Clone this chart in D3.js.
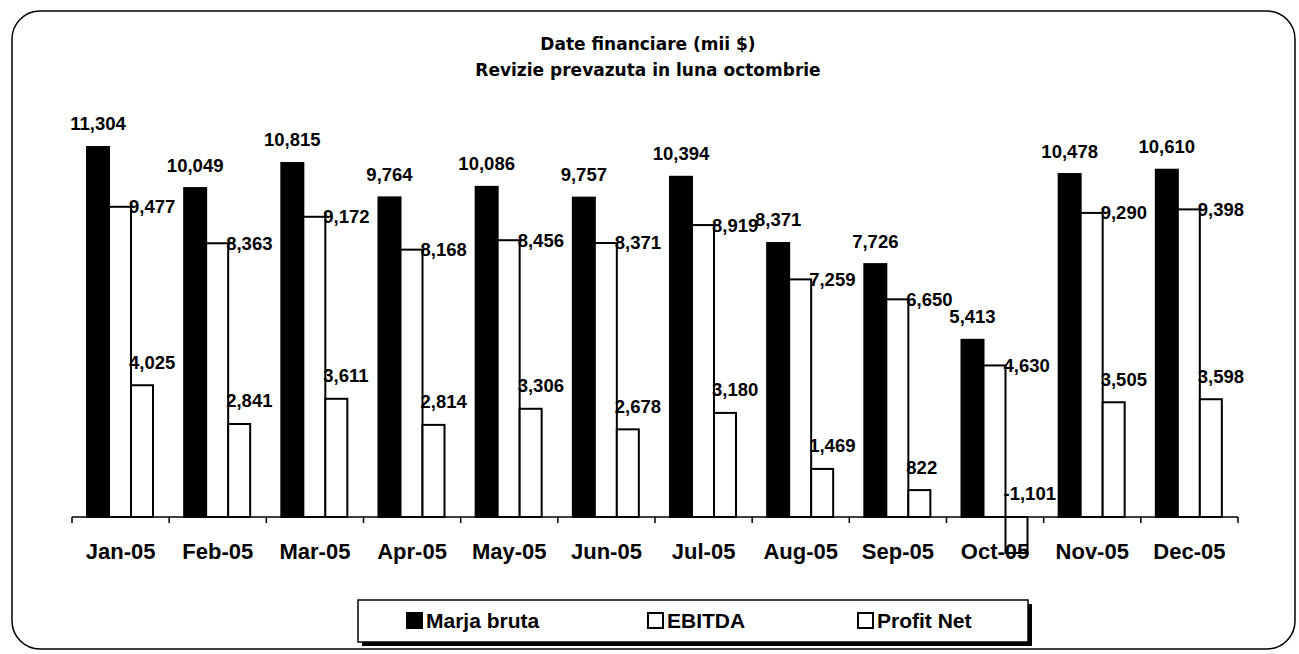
<!DOCTYPE html>
<html>
<head>
<meta charset="utf-8">
<script src="https://cdn.jsdelivr.net/npm/d3@7"></script>
<style>
  body { margin: 0; background: #fff; }
  text { font-family: "Liberation Sans", Arial, sans-serif; font-weight: bold; fill: #000; }
  text.title { font-family: "DejaVu Sans", Verdana, sans-serif; }
</style>
</head>
<body>
<div id="chart"></div>
<script>
// data
var months = ["Jan-05","Feb-05","Mar-05","Apr-05","May-05","Jun-05","Jul-05","Aug-05","Sep-05","Oct-05","Nov-05","Dec-05"];
var marjaBruta = [11304, 10049, 10815, 9764, 10086, 9757, 10394, 8371, 7726, 5413, 10478, 10610];
var ebitda     = [9477, 8363, 9172, 8168, 8456, 8371, 8919, 7259, 6650, 4630, 9290, 9398];
var profitNet  = [4025, 2841, 3611, 2814, 3306, 2678, 3180, 1469, 822, -1101, 3505, 3598];
var seriesNames = ["Marja bruta", "EBITDA", "Profit Net"];
var titleLines = ["Date financiare (mii $)", "Revizie prevazuta in luna octombrie"];

var W = 1299, H = 654;
var fmt = d3.formatLocale({decimal: ".", thousands: ",", grouping: [3], currency: ["$", ""], minus: "-"}).format(",");

var svg = d3.select("#chart").append("svg")
    .attr("width", W)
    .attr("height", H);

// outer rounded frame
svg.append("rect")
    .attr("x", 12).attr("y", 11)
    .attr("width", 1283).attr("height", 638)
    .attr("rx", 28).attr("ry", 28)
    .attr("fill", "#fff")
    .attr("stroke", "#000")
    .attr("stroke-width", 1.5);

// title
svg.selectAll(".title")
  .data(titleLines)
  .enter().append("text")
    .attr("class", "title")
    .attr("x", 648)
    .attr("y", function(d, i) { return 50 + i * 26; })
    .attr("text-anchor", "middle")
    .style("font-size", "17px")
    .text(function(d) { return d; });

var x = d3.scaleBand()
  .domain(months)
  .range([72, 1238])
  .padding(0);

var y = d3.scaleLinear()
  .domain([0, 11304])
  .range([517, 147]);

var barW = 22, barOff = 15;

var rows = months.map(function(m, i) {
  return {month: m, vals: [marjaBruta[i], ebitda[i], profitNet[i]]};
});

var groups = svg.selectAll(".grp")
  .data(rows)
  .enter().append("g")
    .attr("class", "grp")
    .attr("transform", function(d) { return "translate(" + x(d.month) + ",0)"; });

// bars
groups.selectAll("rect")
  .data(function(d) { return d.vals.map(function(v, k) { return {v: v, k: k}; }); })
  .enter().append("rect")
    .attr("x", function(d) { return barOff + d.k * barW; })
    .attr("y", function(d) { return y(Math.max(0, d.v)); })
    .attr("width", barW)
    .attr("height", function(d) { return Math.abs(y(d.v) - y(0)); })
    .attr("fill", function(d) { return d.k === 0 ? "#000" : "#fff"; })
    .attr("stroke", "#000")
    .attr("stroke-width", 2);

// value labels
groups.selectAll(".lbl")
  .data(function(d) { return d.vals.map(function(v, k) { return {v: v, k: k}; }); })
  .enter().append("text")
    .attr("class", "lbl")
    .style("font-size", "18.5px")
    .attr("text-anchor", function(d) { return d.k === 0 ? "middle" : "start"; })
    .attr("dy", "0.35em")
    .attr("x", function(d) {
      if (d.k === 0) return barOff + barW / 2;
      return barOff + 2 * barW - 2;
    })
    .attr("y", function(d) {
      var top = y(Math.max(0, d.v));
      if (d.k === 1) return top;
      return top - 23;
    })
    .text(function(d) { return fmt(d.v); });

// x axis
svg.append("line")
    .attr("x1", 72).attr("x2", 1238)
    .attr("y1", y(0)).attr("y2", y(0))
    .attr("stroke", "#000").attr("stroke-width", 1.5);

var bounds = months.map(function(m) { return x(m); }).concat([x.range()[1]]);
svg.selectAll(".tick")
  .data(bounds)
  .enter().append("line")
    .attr("x1", function(d) { return d; })
    .attr("x2", function(d) { return d; })
    .attr("y1", y(0)).attr("y2", y(0) + 6)
    .attr("stroke", "#000").attr("stroke-width", 1.5);

svg.selectAll(".cat")
  .data(months)
  .enter().append("text")
    .attr("class", "cat")
    .attr("x", function(d) { return x(d) + x.bandwidth() / 2; })
    .attr("y", 559)
    .attr("text-anchor", "middle")
    .style("font-size", "22px")
    .text(function(d) { return d; });

// legend
var leg = svg.append("g").attr("transform", "translate(358,600)");
leg.append("rect")
    .attr("x", 4).attr("y", 4)
    .attr("width", 670).attr("height", 42)
    .attr("fill", "#000");
leg.append("rect")
    .attr("x", 0).attr("y", 0)
    .attr("width", 670).attr("height", 42)
    .attr("fill", "#fff")
    .attr("stroke", "#000")
    .attr("stroke-width", 1.5);

var legX = [49, 290, 500];
var item = leg.selectAll(".item")
  .data(seriesNames)
  .enter().append("g")
    .attr("class", "item")
    .attr("transform", function(d, i) { return "translate(" + legX[i] + ",0)"; });
item.append("rect")
    .attr("x", 0).attr("y", 13)
    .attr("width", 15).attr("height", 15)
    .attr("fill", function(d, i) { return i === 0 ? "#000" : "#fff"; })
    .attr("stroke", "#000")
    .attr("stroke-width", 2);
item.append("text")
    .attr("x", 19).attr("y", 21)
    .attr("dy", "0.35em")
    .style("font-size", "21px")
    .text(function(d) { return d; });
</script>
</body>
</html>
